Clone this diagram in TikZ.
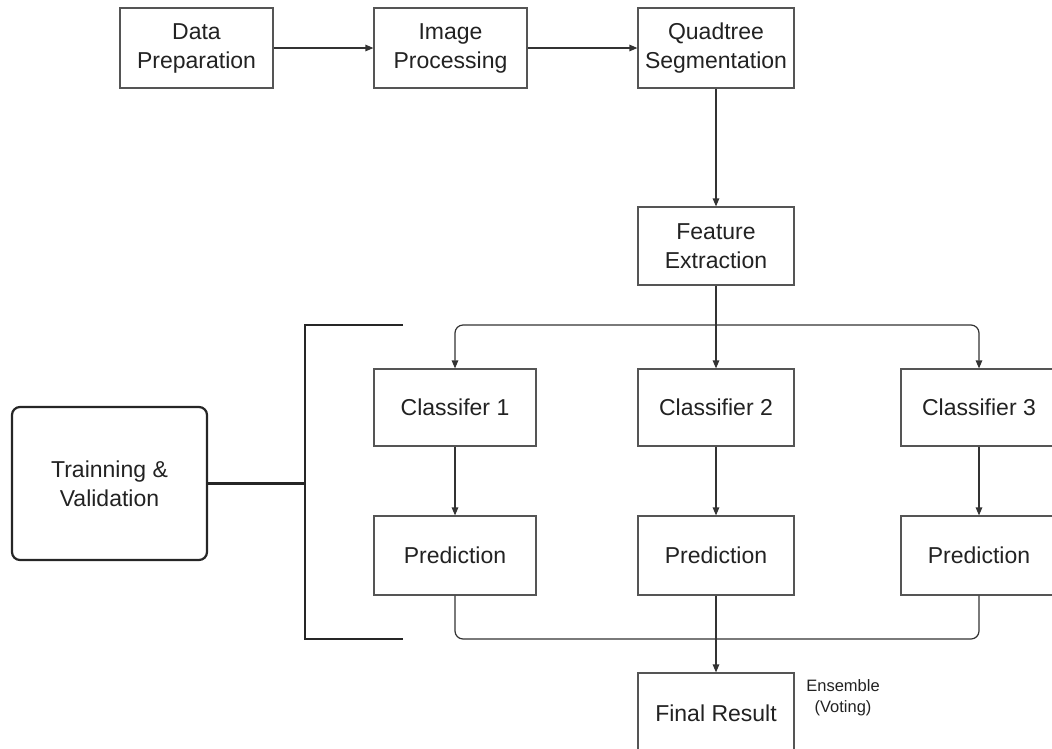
\documentclass[tikz,border=0pt]{standalone}
\usepackage{fontspec}
\setmainfont{Liberation Sans}
\usetikzlibrary{arrows.meta,calc}
\definecolor{boxline}{HTML}{555555}
\definecolor{conn}{HTML}{333333}
\definecolor{txt}{HTML}{222222}
\begin{document}
\begin{tikzpicture}[x=1pt,y=-1pt,
  stepbox/.style={draw=boxline,line width=1.2pt,fill=white,align=center,
    text=txt,font=\fontsize{23}{29}\selectfont,inner sep=0pt,
    minimum width=156pt,minimum height=#1},
  stepbox/.default=79pt,
  conn/.style={draw=conn,line width=1.2pt},
  arr/.style={conn,-{Triangle[length=8pt,width=6.5pt]}},
  brk/.style={draw=black!85,line width=2.2pt}]
\useasboundingbox (0,0) rectangle (1052,748);
% top row
\node[stepbox=80pt,minimum width=153pt] (dp) at (196.5,48) {Data\\Preparation};
\node[stepbox=80pt,minimum width=153pt] (ip) at (450.5,48) {Image\\Processing};
\node[stepbox=80pt] (qs) at (716,48) {Quadtree\\Segmentation};
\node[stepbox=78pt] (fe) at (716,246) {Feature\\Extraction};
% classifiers
\node[stepbox=77pt,minimum width=162pt] (c1) at (455,407.5) {Classifer 1};
\node[stepbox=77pt] (c2) at (716,407.5) {Classifier 2};
\node[stepbox=77pt] (c3) at (979,407.5) {Classifier 3};
\node[stepbox=79pt,minimum width=162pt] (p1) at (455,555.5) {Prediction};
\node[stepbox=79pt] (p2) at (716,555.5) {Prediction};
\node[stepbox=79pt] (p3) at (979,555.5) {Prediction};
\node[stepbox=80pt] (fr) at (716,713) {Final Result};
\node[text=txt,font=\fontsize{16.5}{21}\selectfont,align=center,inner sep=0pt] (ens) at (843,698) {Ensemble\\(Voting)};
% training
\node[draw=black!85,line width=2.2pt,rounded corners=8pt,align=center,text=txt,
  font=\fontsize{23}{29}\selectfont,minimum width=195pt,minimum height=153pt,inner sep=0pt]
  (tv) at (109.5,483.5) {Trainning \&\\Validation};
% connectors
\draw[arr] (dp) -- (ip);
\draw[arr] (ip) -- (qs);
\draw[arr] (qs) -- (fe);
\coordinate (split) at (716,325);
\draw[arr] (fe) -- (c2);
\draw[arr,rounded corners=8pt] (split) -| (c1.north);
\draw[arr,rounded corners=8pt] (split) -| (c3.north);
\draw[arr] (c1) -- (p1);
\draw[arr] (c2) -- (p2);
\draw[arr] (c3) -- (p3);
\coordinate (merge) at (716,639);
\draw[conn,rounded corners=8pt] (p1.south) |- (merge);
\draw[conn,rounded corners=8pt] (p3.south) |- (merge);
\draw[arr] (p2) -- (fr);
% bracket
\coordinate (bt) at (403,325);
\coordinate (bb) at (403,639);
\coordinate (bm) at (305,483.5);
\draw[brk] (bt) -- (305,325) -- (305,639) -- (bb);
\draw[brk] (tv.east) -- (bm);
\end{tikzpicture}
\end{document}
